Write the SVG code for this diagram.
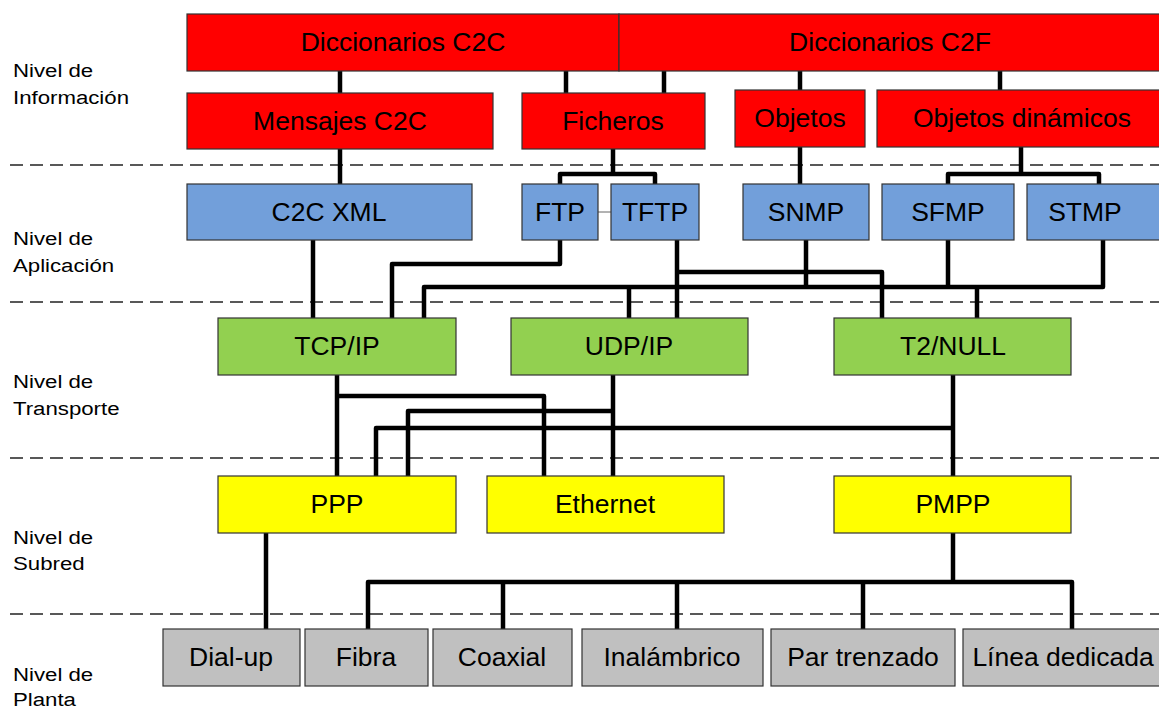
<svg xmlns="http://www.w3.org/2000/svg" width="1159" height="709" viewBox="0 0 1159 709">
  <style>
    .box { stroke: #333333; stroke-width: 1.2; }
    .info { fill: #FF0000; }
    .app { fill: #729FDA; }
    .trans { fill: #92D050; }
    .sub { fill: #FFFF00; }
    .plant { fill: #C0C0C0; }
    .lbl { font-family: "Liberation Sans", Arial, sans-serif; font-size: 26.5px; fill: #000; text-anchor: middle; }
    .lvl { font-family: "Liberation Sans", Arial, sans-serif; font-size: 19px; fill: #000; }
    .sep { stroke: #222222; stroke-width: 1.6; stroke-dasharray: 13 7; fill: none; }
    .wire { stroke: #000; stroke-width: 4.5; fill: none; stroke-linejoin: round; }
    .thin { stroke: #666666; stroke-width: 1; fill: none; }
  </style>
  <rect width="1159" height="709" fill="#FFFFFF"/>

  <!-- level separators -->
  <g id="separators">
    <line class="sep" x1="10" y1="165" x2="1159" y2="165"/>
    <line class="sep" x1="10" y1="302" x2="1159" y2="302"/>
    <line class="sep" x1="10" y1="458" x2="1159" y2="458"/>
    <line class="sep" x1="10" y1="614" x2="1159" y2="614"/>
  </g>

  <!-- level names (slightly widened type) -->
  <g id="levels" transform="scale(1.17 1)">
    <text class="lvl" x="11.1" y="77">Nivel de</text>
    <text class="lvl" x="11.1" y="104">Información</text>
    <text class="lvl" x="11.1" y="245">Nivel de</text>
    <text class="lvl" x="11.1" y="272">Aplicación</text>
    <text class="lvl" x="11.1" y="388">Nivel de</text>
    <text class="lvl" x="11.1" y="415">Transporte</text>
    <text class="lvl" x="11.1" y="544">Nivel de</text>
    <text class="lvl" x="11.1" y="570">Subred</text>
    <text class="lvl" x="11.1" y="681">Nivel de</text>
    <text class="lvl" x="11.1" y="706">Planta</text>
  </g>

  <!-- connectors -->
  <g id="connectors">
    <!-- information level -->
    <path class="wire" d="M340,71 V93 M566,71 V93 M664,71 V93 M800,71 V90 M1000,71 V90"/>
    <!-- information to application -->
    <path class="wire" d="M340,149 V184"/>
    <path class="wire" d="M613,149 V174 M560,184 V174 H655 V184"/>
    <path class="wire" d="M800,147 V184"/>
    <path class="wire" d="M1021,147 V174 M948,184 V174 H1099 V184"/>
    <line class="thin" x1="598" y1="212" x2="611" y2="212"/>
    <!-- application to transport -->
    <path class="wire" d="M313,240 V318"/>
    <path class="wire" d="M560,240 V264 H392 V318"/>
    <path class="wire" d="M424,318 V287 H1103 V240"/>
    <path class="wire" d="M629,287 V318"/>
    <path class="wire" d="M677,240 V318"/>
    <path class="wire" d="M677,272 H882 V318"/>
    <path class="wire" d="M806,240 V287 M948,240 V287 M977,287 V318"/>
    <!-- transport to subnet -->
    <path class="wire" d="M337,375 V476"/>
    <path class="wire" d="M337,396 H544 V476"/>
    <path class="wire" d="M613,375 V476"/>
    <path class="wire" d="M613,411 H408 V476"/>
    <path class="wire" d="M953,375 V476"/>
    <path class="wire" d="M953,428 H376 V476"/>
    <!-- subnet to plant -->
    <path class="wire" d="M266,533 V629"/>
    <path class="wire" d="M953,533 V582"/>
    <path class="wire" d="M368,629 V582 H1072 V629"/>
    <path class="wire" d="M503,582 V629 M677,582 V629 M863,582 V629"/>
  </g>

  <!-- information level -->
  <g id="dic-c2c"><rect class="box info" x="187" y="14" width="432" height="57"/><text class="lbl" x="403" y="51">Diccionarios C2C</text></g>
  <g id="dic-c2f"><rect class="box info" x="619" y="14" width="545" height="57"/><text class="lbl" x="890" y="51">Diccionarios C2F</text></g>
  <g id="mensajes"><rect class="box info" x="187" y="93" width="306" height="56"/><text class="lbl" x="340" y="130">Mensajes C2C</text></g>
  <g id="ficheros"><rect class="box info" x="522" y="93" width="183" height="56"/><text class="lbl" x="613" y="130">Ficheros</text></g>
  <g id="objetos"><rect class="box info" x="735" y="90" width="130" height="57"/><text class="lbl" x="800" y="127">Objetos</text></g>
  <g id="objetos-din"><rect class="box info" x="877" y="90" width="290" height="57"/><text class="lbl" x="1022" y="127">Objetos dinámicos</text></g>

  <!-- application level -->
  <g id="c2cxml"><rect class="box app" x="187" y="184" width="285" height="56"/><text class="lbl" x="329" y="221">C2C XML</text></g>
  <g id="ftp"><rect class="box app" x="522" y="184" width="76" height="56"/><text class="lbl" x="560" y="221">FTP</text></g>
  <g id="tftp"><rect class="box app" x="611" y="184" width="88" height="56"/><text class="lbl" x="655" y="221">TFTP</text></g>
  <g id="snmp"><rect class="box app" x="743" y="184" width="126" height="56"/><text class="lbl" x="806" y="221">SNMP</text></g>
  <g id="sfmp"><rect class="box app" x="882" y="184" width="132" height="56"/><text class="lbl" x="948" y="221">SFMP</text></g>
  <g id="stmp"><rect class="box app" x="1027" y="184" width="140" height="56"/><text class="lbl" x="1085" y="221">STMP</text></g>

  <!-- transport level -->
  <g id="tcpip"><rect class="box trans" x="218" y="318" width="238" height="57"/><text class="lbl" x="337" y="355">TCP/IP</text></g>
  <g id="udpip"><rect class="box trans" x="511" y="318" width="237" height="57"/><text class="lbl" x="629" y="355">UDP/IP</text></g>
  <g id="t2null"><rect class="box trans" x="834" y="318" width="237" height="57"/><text class="lbl" x="953" y="355">T2/NULL</text></g>

  <!-- subnet level -->
  <g id="ppp"><rect class="box sub" x="218" y="476" width="238" height="57"/><text class="lbl" x="337" y="513">PPP</text></g>
  <g id="ethernet"><rect class="box sub" x="487" y="476" width="237" height="57"/><text class="lbl" x="605" y="513">Ethernet</text></g>
  <g id="pmpp"><rect class="box sub" x="834" y="476" width="237" height="57"/><text class="lbl" x="953" y="513">PMPP</text></g>

  <!-- plant level -->
  <g id="dialup"><rect class="box plant" x="163" y="629" width="137" height="57"/><text class="lbl" x="231" y="666">Dial-up</text></g>
  <g id="fibra"><rect class="box plant" x="305" y="629" width="123" height="57"/><text class="lbl" x="366" y="666">Fibra</text></g>
  <g id="coaxial"><rect class="box plant" x="433" y="629" width="139" height="57"/><text class="lbl" x="502" y="666">Coaxial</text></g>
  <g id="inalambrico"><rect class="box plant" x="582" y="629" width="181" height="57"/><text class="lbl" x="672" y="666">Inalámbrico</text></g>
  <g id="par"><rect class="box plant" x="771" y="629" width="184" height="57"/><text class="lbl" x="863" y="666">Par trenzado</text></g>
  <g id="linea"><rect class="box plant" x="963" y="629" width="200" height="57"/><text class="lbl" x="1063" y="666">Línea dedicada</text></g>
</svg>
